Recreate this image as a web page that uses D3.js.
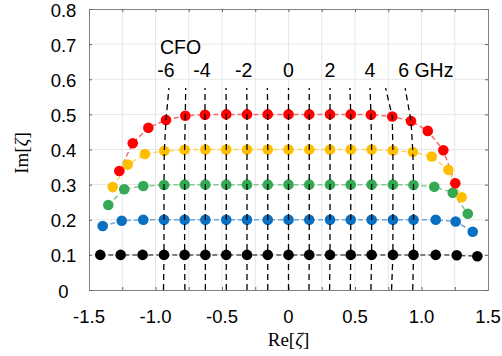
<!DOCTYPE html>
<html><head><meta charset="utf-8">
<script src="https://cdn.jsdelivr.net/npm/d3@7"></script>
<style>
html,body{margin:0;padding:0;background:#fff;}
svg{display:block;}
</style></head>
<body>
<svg id="chart" width="502" height="356"></svg>
<script>
// ---------- data ----------
const xTickLabels = ["-1.5","-1.0","-0.5","0","0.5","1.0","1.5"];
const yTickLabels = ["0","0.1","0.2","0.3","0.4","0.5","0.6","0.7","0.8"];

const seriesNames = ["A = 0.1","A = 0.2","A = 0.3","A = 0.4","A = 0.5"];
const seriesColors = ["#000000","#0a70c2","#34a853","#ffbf00","#ff0000"];
const seriesLineColors = ["#555555","#6aa6dc","#7fcb92","#ffd45c","#f46a6a"];

const reBlack  = [-1.415,-1.262,-1.097,-0.936,-0.781,-0.625,-0.468,-0.312,-0.156,0,0.156,0.312,0.468,0.625,0.785,0.940,1.107,1.265,1.420];
const imBlack  = [0.100,0.100,0.100,0.100,0.100,0.100,0.100,0.100,0.100,0.100,0.100,0.100,0.100,0.100,0.100,0.100,0.100,0.099,0.096];
const reBlue   = [-1.397,-1.254,-1.092,-0.936,-0.781,-0.625,-0.468,-0.312,-0.156,0,0.156,0.312,0.468,0.625,0.785,0.940,1.107,1.257,1.385];
const imBlue   = [0.182,0.197,0.200,0.200,0.200,0.200,0.200,0.200,0.200,0.200,0.200,0.200,0.200,0.200,0.200,0.200,0.200,0.195,0.166];
const reGreen  = [-1.355,-1.235,-1.092,-0.936,-0.781,-0.625,-0.468,-0.312,-0.156,0,0.156,0.312,0.468,0.625,0.785,0.940,1.096,1.235,1.348];
const imGreen  = [0.242,0.287,0.296,0.299,0.300,0.300,0.300,0.300,0.300,0.300,0.300,0.300,0.300,0.300,0.300,0.299,0.294,0.277,0.217];
const reYellow = [-1.322,-1.209,-1.079,-0.934,-0.781,-0.625,-0.468,-0.312,-0.156,0,0.156,0.312,0.468,0.625,0.785,0.935,1.077,1.202,1.302];
const imYellow = [0.293,0.357,0.387,0.396,0.399,0.400,0.400,0.400,0.400,0.400,0.400,0.400,0.400,0.400,0.397,0.393,0.380,0.342,0.264];
const reRed    = [-1.272,-1.171,-1.054,-0.921,-0.776,-0.628,-0.468,-0.312,-0.156,0,0.156,0.312,0.468,0.620,0.780,0.921,1.047,1.164,1.254];
const imRed    = [0.339,0.418,0.462,0.484,0.496,0.499,0.500,0.500,0.500,0.500,0.500,0.500,0.500,0.499,0.494,0.481,0.453,0.398,0.304];

// CFO trajectories (-6 ... 6 GHz): Re at Im = 0 and at top end of the dashed lines
const cfoValues = [-6,-5,-4,-3,-2,-1,0,1,2,3,4,5,6];
const cfoBaseRe = [-0.940,-0.779,-0.625,-0.468,-0.312,-0.156,0,0.154,0.309,0.465,0.620,0.775,0.934];
const cfoTopRe  = [-0.899,-0.773,-0.628,-0.470,-0.314,-0.159,0,0.156,0.312,0.462,0.613,0.730,0.877];
const cfoTopIm  = 0.575;
const cfoLabels = ["-6","-4","-2","0","2","4","6 GHz"];
const cfoLabelValues = [-6,-4,-2,0,2,4,6];
const cfoTitle = "CFO";

// ---------- layout ----------
const svg = d3.select("#chart");
const L = 89, R = 488, T = 9, B = 290;
const x = d3.scaleLinear().domain([-1.5,1.5]).range([L,R]);
const y = d3.scaleLinear().domain([0,0.8]).range([B,T]);
const sansFont = "'Liberation Sans', Arial, sans-serif";
const serifFont = "'Liberation Serif', 'Times New Roman', serif";

// grid
const xGrid = d3.range(-1.25, 1.26, 0.25);
const yGrid = d3.range(0.1, 0.75, 0.1);
svg.append("g").selectAll("line").data(xGrid).join("line")
  .attr("x1", d => x(d)).attr("x2", d => x(d)).attr("y1", T).attr("y2", B)
  .attr("stroke", "#e6e6e6").attr("stroke-width", 1);
svg.append("g").selectAll("line").data(yGrid).join("line")
  .attr("y1", d => y(d)).attr("y2", d => y(d)).attr("x1", L).attr("x2", R)
  .attr("stroke", "#e6e6e6").attr("stroke-width", 1);

// axes (ticks inward)
const axisColor = "#808080";
const xBottom = d3.axisBottom(x).tickValues(d3.range(-1.5,1.51,0.25)).tickSize(-3).tickFormat("");
const xTop = d3.axisTop(x).tickValues(d3.range(-1.5,1.51,0.25)).tickSize(-3).tickFormat("");
const yLeft = d3.axisLeft(y).tickValues(d3.range(0,0.81,0.1)).tickSize(-3).tickFormat("");
const yRight = d3.axisRight(y).tickValues(d3.range(0,0.81,0.1)).tickSize(-3).tickFormat("");
[[xBottom,`translate(0,${B})`],[xTop,`translate(0,${T})`],[yLeft,`translate(${L},0)`],[yRight,`translate(${R},0)`]]
  .forEach(([ax,tr]) => {
    const g = svg.append("g").attr("transform", tr).call(ax);
    g.select(".domain").attr("stroke", axisColor).attr("stroke-width", 1);
    g.selectAll(".tick line").attr("stroke", "#666");
  });

// tick labels
const xLabVals = d3.range(-1.5,1.51,0.5);
svg.append("g").selectAll("text").data(xLabVals).join("text")
  .attr("x", d => x(d)).attr("y", 316)
  .attr("text-anchor","middle").attr("dominant-baseline","central")
  .attr("font-family", sansFont).attr("font-size", 18.5).attr("fill","#000")
  .text((d,i) => xTickLabels[i]);
const yLabVals = d3.range(0,0.81,0.1);
svg.append("g").selectAll("text").data(yLabVals).join("text")
  .attr("x", 63.5).attr("y", d => y(d) + 1)
  .attr("text-anchor","middle").attr("dominant-baseline","central")
  .attr("font-family", sansFont).attr("font-size", 18.5).attr("fill","#000")
  .text((d,i) => yTickLabels[i]);

// axis titles
function zetaLabel(sel, pre) {
  sel.append("tspan").text(pre + "[");
  sel.append("tspan").attr("font-style","italic").text("ζ");
  sel.append("tspan").text("]");
}
const xt = svg.append("text").attr("x", x(0)).attr("y", 346)
  .attr("text-anchor","middle").attr("font-family", serifFont).attr("font-size", 19).attr("fill","#000");
zetaLabel(xt, "Re");
const yt = svg.append("text").attr("transform", "translate(28,153) rotate(-90)")
  .attr("text-anchor","middle").attr("font-family", serifFont).attr("font-size", 19).attr("fill","#000");
zetaLabel(yt, "Im");

// series
const series = [
  {re: reBlack, im: imBlack},
  {re: reBlue, im: imBlue},
  {re: reGreen, im: imGreen},
  {re: reYellow, im: imYellow},
  {re: reRed, im: imRed}
].map((s,i) => ({name: seriesNames[i], color: seriesColors[i], lineColor: seriesLineColors[i],
   pts: s.re.map((r,k) => [r, s.im[k]])}));

const line = d3.line().x(d => x(d[0])).y(d => y(d[1]));
svg.append("g").selectAll("path").data(series).join("path")
  .attr("d", d => line(d.pts)).attr("fill","none")
  .attr("stroke", d => d.lineColor).attr("stroke-width", 1.5).attr("stroke-dasharray","5,3");

series.forEach(s => {
  svg.append("g").selectAll("circle").data(s.pts).join("circle")
    .attr("cx", d => x(d[0])).attr("cy", d => y(d[1])).attr("r", 5.3)
    .attr("fill", s.color);
});

// CFO trajectories (black dashed)
const traj = cfoValues.map((c,j) => {
  const k = j + 3;
  return [[cfoBaseRe[j],0],[reBlack[k],imBlack[k]],[reBlue[k],imBlue[k]],[reGreen[k],imGreen[k]],
          [reYellow[k],imYellow[k]],[reRed[k],imRed[k]],[cfoTopRe[j],cfoTopIm]];
});
svg.append("g").selectAll("path").data(traj).join("path")
  .attr("d", d => line(d)).attr("fill","none")
  .attr("stroke","#000").attr("stroke-width",1.3).attr("stroke-dasharray","6,4");

// CFO annotation
svg.append("text").attr("x", 160).attr("y", 54)
  .attr("font-family", sansFont).attr("font-size", 19.5).attr("fill","#000").text(cfoTitle);
svg.append("g").selectAll("text").data(cfoLabelValues).join("text")
  .attr("x", d => { const j = cfoValues.indexOf(d); const px = x(cfoTopRe[j]);
     return d < 0 ? px - 3 : (d === 6 ? px - 7 : px); })
  .attr("y", 77)
  .attr("text-anchor", d => d === 6 ? "start" : "middle")
  .attr("font-family", sansFont).attr("font-size", 19.5).attr("fill","#000")
  .text((d,i) => cfoLabels[i]);
</script>
</body></html>
